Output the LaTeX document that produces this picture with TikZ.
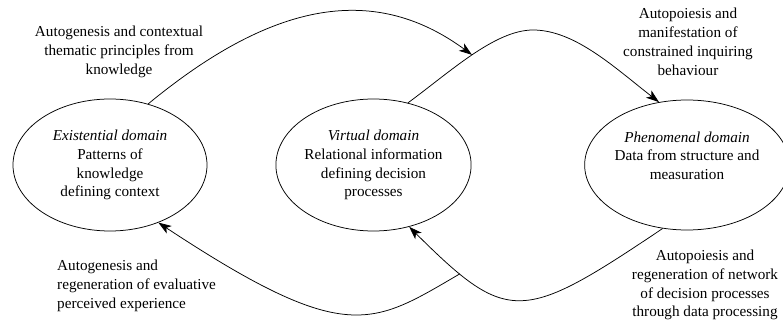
\documentclass[tikz,border=0pt]{standalone}
\usepackage{fontspec}
\setmainfont{Liberation Serif}
\usetikzlibrary{shapes.geometric,arrows.meta}

\begin{document}
\begin{tikzpicture}[x=1pt,y=-1pt]
\tikzstyle{domainbox}=[ellipse,draw,line width=0.75pt,inner sep=0pt,minimum width=194pt,minimum height=132pt,align=center,font=\fontsize{15.2}{18.8}\selectfont]
\tikzstyle{note}=[inner sep=0pt,align=center,font=\fontsize{15.2}{18.8}\selectfont]
\tikzstyle{flow}=[line width=0.75pt,-{Stealth[length=13pt,width=9pt,inset=3.5pt]}]
\useasboundingbox (0,0) rectangle (783,320);
% the three domains
\node[domainbox] (exist) at (110,165) {\textit{Existential domain}\\Patterns of\\knowledge\\defining context};
\node[domainbox] (virt) at (373.5,165) {\textit{Virtual domain}\\Relational information\\defining decision\\processes};
\node[domainbox,minimum width=190pt,minimum height=130pt] (phen) at (687,165) {\textit{Phenomenal domain}\\Data from structure and\\measuration\\~};
% loops between them
\draw[flow] (virt.61) .. controls (450,72) and (495,30) .. (533,30) coordinate[pos=0.5] (btouch)
  .. controls (575,30) and (615,68) .. (phen.114);
\draw[flow] (exist.58) .. controls (267,6) and (370,-20) .. (btouch);
\draw[flow] (phen.249) .. controls (522,323) and (508,325) .. (virt.300) coordinate[pos=0.8] (dtail);
\draw[flow] (dtail) .. controls (372,325) and (347,347) .. (exist.310);
% labels
\node[note] (lcontext) at (119,52) {Autogenesis and contextual\\thematic principles from\\knowledge};
\node[note] (lmanifest) at (688,42) {Autopoiesis and\\manifestation of\\constrained inquiring\\behaviour};
\node[note,anchor=west,align=left] (levaluate) at (57,286) {Autogenesis and\\regeneration of evaluative\\perceived experience};
\node[note] (lnetwork) at (705,285) {Autopoiesis and\\regeneration of network\\of decision processes\\through data processing};
\end{tikzpicture}
\end{document}
